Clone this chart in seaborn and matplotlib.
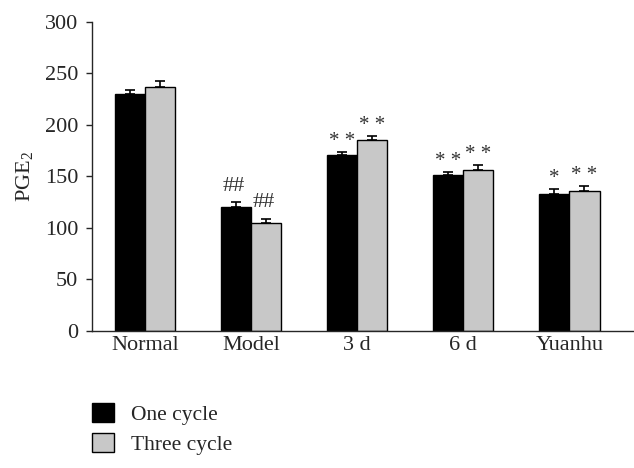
import matplotlib
matplotlib.use("Agg")
import matplotlib.pyplot as plt
from matplotlib.patches import Patch
import seaborn as sns
import pandas as pd

groups = ["Normal", "Model", "3 d", "6 d", "Yuanhu"]
series = ["One cycle", "Three cycle"]
one_cycle = [230, 120, 171, 151, 133]
three_cycle = [237, 105, 185, 156, 136]
one_err = [3.5, 5, 3, 3, 5]
three_err = [6, 4, 4, 5, 5]
one_marks = ["", "##", "* *", "* *", "*"]
three_marks = ["", "##", "* *", "* *", "* *"]
colors = ["#000000", "#c8c8c8"]

df = pd.DataFrame({
    "group": groups * 2,
    "series": [series[0]] * 5 + [series[1]] * 5,
    "value": one_cycle + three_cycle,
})

sns.set_style("ticks")
plt.rcParams["font.family"] = ["Liberation Serif", "DejaVu Serif"]
plt.rcParams["mathtext.fontset"] = "custom"
plt.rcParams["mathtext.rm"] = "Liberation Serif"

fig = plt.figure(figsize=(6.34, 4.68), dpi=100)
ax = fig.add_axes([0.145, 0.293, 0.855, 0.66])

sns.barplot(data=df, x="group", y="value", hue="series", order=groups,
            hue_order=series, palette=colors, width=0.57, gap=0,
            edgecolor="black", linewidth=1, errorbar=None, legend=False, ax=ax)

# error bars + significance marks, placed on the drawn bars
bars = ax.patches
errs = one_err + three_err
marks = one_marks + three_marks
for bar, e, m in zip(bars, errs, marks):
    xc = bar.get_x() + bar.get_width() / 2
    top = bar.get_height()
    ax.errorbar(xc, top, yerr=[[0], [e]], fmt="none", ecolor="black",
                elinewidth=1.2, capsize=3.5, capthick=1.2)
    if m == "##":
        ax.text(xc - 0.02, top + e + 6, m, ha="center", va="bottom",
                fontsize=16, color="#333333")
    elif m:
        ax.text(xc, top + e + 1, m, ha="center", va="bottom", fontsize=15,
                color="#333333")

ax.set_ylim(0, 300)
ax.set_yticks(range(0, 301, 50))
ax.set_xlim(-0.5, 4.61)
ax.set_xlabel("")
ax.set_ylabel("PGE$_2$", fontsize=16, labelpad=6)
ax.tick_params(axis="y", labelsize=16, length=4, width=1, pad=6)
ax.tick_params(axis="x", labelsize=16, length=0, pad=4)
sns.despine(ax=ax)
for s in ["left", "bottom"]:
    ax.spines[s].set_linewidth(1)

handles = [Patch(facecolor=c, edgecolor="black", linewidth=1) for c in colors]
fig.legend(handles, series, loc="lower left", bbox_to_anchor=(0.115, -0.013),
           frameon=False, fontsize=15.5, handlelength=1.0, handleheight=1.0,
           handletextpad=0.8, labelspacing=0.35)

plt.savefig("out.png", dpi=100)
plt.close()
